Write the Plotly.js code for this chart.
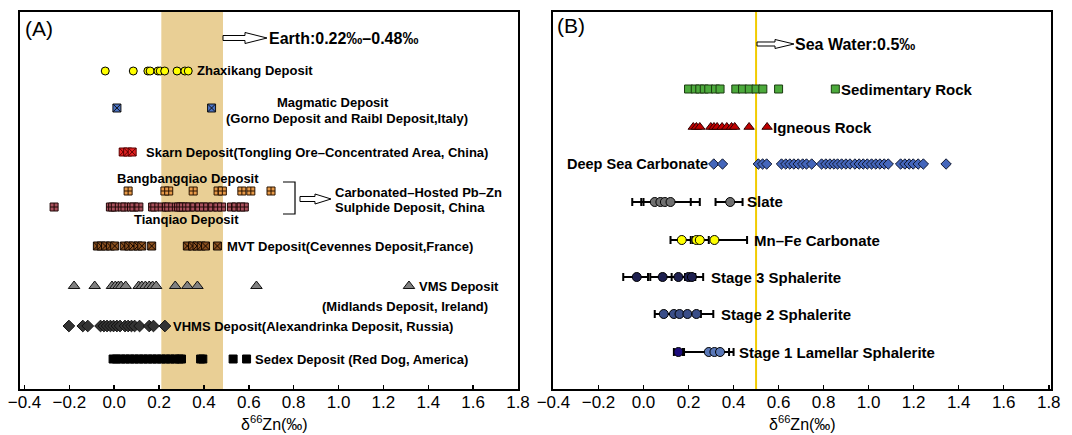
<!DOCTYPE html>
<html><head><meta charset="utf-8">
<script src="https://cdn.plot.ly/plotly-3.0.1.min.js"></script>
<style>html,body{margin:0;padding:0;background:#fff}</style>
</head><body><div id="chart" style="width:1072px;height:435px"></div>
<script>
// ---------- Panel A data (δ66Zn ‰) ----------
const zhaxikang = [-0.04, 0.085, 0.15, 0.16, 0.195, 0.205, 0.225, 0.28, 0.315, 0.33];
const magmatic = [0.012, 0.434];
const skarn = [0.04, 0.06, 0.08];
const bangbangqiao = [0.062, 0.226, 0.243, 0.352, 0.463, 0.482, 0.569, 0.609, 0.699];
const tianqiao = [-0.268, -0.017, -0.007, 0.005, 0.036, 0.048, 0.077, 0.088, 0.11, 0.171, 0.181, 0.214, 0.233, 0.243, 0.277, 0.287, 0.297, 0.308, 0.323, 0.337, 0.359, 0.381, 0.398, 0.417, 0.439, 0.462, 0.479, 0.523, 0.543, 0.566, 0.58];
const mvt = [-0.075, -0.058, -0.039, -0.017, 0.002, 0.045, 0.065, 0.084, 0.106, 0.123, 0.167, 0.326, 0.349, 0.369, 0.388, 0.407, 0.46];
const vms = [-0.179, -0.087, -0.01, 0.005, 0.019, 0.031, 0.051, 0.109, 0.123, 0.139, 0.156, 0.171, 0.187, 0.272, 0.326, 0.371, 0.634];
const vhms = [-0.202, -0.14, -0.118, -0.061, -0.046, -0.032, -0.017, -0.003, 0.012, 0.026, 0.048, 0.062, 0.077, 0.091, 0.113, 0.156, 0.175, 0.226];
const sedex = [-0.005, 0.01, 0.03, 0.05, 0.07, 0.09, 0.11, 0.13, 0.15, 0.17, 0.19, 0.21, 0.23, 0.25, 0.27, 0.29, 0.3, 0.385, 0.395, 0.53, 0.59];
const earthRange = [0.21, 0.485];

// ---------- Panel B data ----------
const sedimentary = [0.2, 0.23, 0.25, 0.27, 0.29, 0.32, 0.34, 0.41, 0.44, 0.47, 0.5, 0.53, 0.6];
const igneous = [0.221, 0.235, 0.25, 0.299, 0.313, 0.327, 0.349, 0.37, 0.391, 0.405, 0.469];
const deepSea = [0.312, 0.351, 0.51, 0.529, 0.547, 0.613, 0.632, 0.65, 0.668, 0.687, 0.707, 0.724, 0.747, 0.791, 0.81, 0.828, 0.846, 0.862, 0.88, 0.899, 0.917, 0.939, 0.958, 0.976, 0.994, 1.013, 1.032, 1.05, 1.069, 1.087, 1.142, 1.161, 1.18, 1.198, 1.22, 1.243, 1.344];
const slate = [0.05, 0.075, 0.095, 0.12, 0.385];
const slatePlus = [0.05, 0.03, 0.115, 0.13, 0.055];
const slateMinus = [0.10, 0.085, 0.095, 0.04, 0.065];
const mnfe = [0.17, 0.235, 0.25, 0.315];
const mnfePlus = [0.04, 0.01, 0.04, 0.145];
const mnfeMinus = [0.05, 0.01, 0.03, 0.01];
const stage3 = [-0.03, 0.085, 0.155, 0.2, 0.215];
const stage3Plus = [0.05, 0.04, 0.03, 0.03, 0.05];
const stage3Minus = [0.06, 0.055, 0.08, 0.04, 0.03];
const stage2 = [0.09, 0.135, 0.16, 0.195, 0.235];
const stage2Plus = [0.04, 0.005, 0.03, 0.06, 0.075];
const stage2Minus = [0.04, 0.005, 0.02, 0.05, 0.04];
const stage1 = [0.155, 0.29, 0.315, 0.34];
const stage1Plus = [0.02, 0.09, 0.02, 0.06];
const stage1Minus = [0.02, 0.11, 0.02, 0.02];
const seaWater = 0.5;
const tickVals = [-0.4, -0.2, 0.0, 0.2, 0.4, 0.6, 0.8, 1.0, 1.2, 1.4, 1.6, 1.8];

// ---------- layout helpers (pixel positions) ----------
const W = 1072, H = 435;
const px = x => x / W, py = y => 1 - y / H;
const rowA = {zhx: 71, mag: 108, skarn: 152, bbq: 191, tq: 207, mvt: 246, vms: 286, vhms: 326, sedex: 359};
const rowB = {sed: 89, ign: 127, deep: 164, slate: 202, mnfe: 240, s3: 277, s2: 314, s1: 352};
const keyX = {vms: 1.314, sed: 0.852, ign: 0.549};

function pts(xs, row, sym, fill, line, size, ax) {
  return {type: 'scatter', mode: 'markers', x: xs, y: xs.map(() => row),
    xaxis: ax === 2 ? 'x2' : 'x', yaxis: ax === 2 ? 'y2' : 'y', hoverinfo: 'x',
    marker: {symbol: sym, color: fill, size: size || 8, line: {color: line, width: 1}}};
}
function errPts(xs, plus, minus, row, fills) {
  return {type: 'scatter', mode: 'markers', x: xs, y: xs.map(() => row), xaxis: 'x2', yaxis: 'y2',
    error_x: {type: 'data', symmetric: false, array: plus, arrayminus: minus, color: '#000', thickness: 2, width: 4},
    marker: {symbol: 'circle', color: fills, size: 9, line: {color: '#000', width: 1}}};
}

const data = [
  pts(zhaxikang, rowA.zhx, 'circle', '#ffff00', '#000', 8),
  pts(magmatic, rowA.mag, 'square-x', '#4a72c4', '#111', 8),
  pts(skarn, rowA.skarn, 'square-x', '#e52222', '#5a0000', 8),
  pts(bangbangqiao, rowA.bbq, 'square-cross', '#e89a48', '#2a1400', 8),
  pts(tianqiao, rowA.tq, 'square-cross', '#a8505c', '#200808', 8),
  pts(mvt, rowA.mvt, 'square-x', '#8a5020', '#140800', 8),
  pts(vms, rowA.vms, 'triangle-up', '#808080', '#111', 10),
  pts([keyX.vms], rowA.vms, 'triangle-up', '#808080', '#111', 10),
  pts(vhms, rowA.vhms, 'diamond', '#333333', '#111', 9),
  pts(sedex, rowA.sedex, 'square', '#000', '#000', 8),

  pts(sedimentary, rowB.sed, 'square', '#4caa3c', '#1a3a10', 8, 2),
  pts([keyX.sed], rowB.sed, 'square', '#4caa3c', '#1a3a10', 8, 2),
  pts(igneous, rowB.ign, 'triangle-up', '#c00000', '#300000', 9, 2),
  pts([keyX.ign], rowB.ign, 'triangle-up', '#c00000', '#300000', 9, 2),
  pts(deepSea, rowB.deep, 'diamond', '#4466bb', '#101830', 8, 2),
  errPts(slate, slatePlus, slateMinus, rowB.slate, '#707070'),
  errPts(mnfe, mnfePlus, mnfeMinus, rowB.mnfe, '#ffff00'),
  errPts(stage3, stage3Plus, stage3Minus, rowB.s3, '#1e2050'),
  errPts(stage2, stage2Plus, stage2Minus, rowB.s2, '#3a4e88'),
  errPts(stage1, stage1Plus, stage1Minus, rowB.s1, ['#1c0c7c', '#5a78b8', '#5a78b8', '#5a78b8'])
];

const tickFont = {family: 'Liberation Sans Narrow, Arial Narrow, Liberation Sans, Arial', size: 17, color: '#000'};
function xax(dom, range, anchor) {
  return {domain: dom, range: range, tickvals: tickVals, tickformat: '.1f', ticks: 'inside', ticklen: 4,
    tickwidth: 1.5, tickcolor: '#000', showline: true, linewidth: 2, linecolor: '#000', mirror: true,
    showgrid: false, zeroline: false, tickfont: tickFont, ticklabelstandoff: -3, anchor: anchor, fixedrange: true};
}
function yax(anchor) {
  return {domain: [py(389), py(12)], range: [389, 12], showline: true, linewidth: 2, linecolor: '#000',
    mirror: true, showgrid: false, zeroline: false, showticklabels: false, ticks: '', anchor: anchor, fixedrange: true};
}

const F = 'Liberation Sans, Arial, sans-serif';
function lab(text, x, y, size, anchor, bold) {
  return {xref: 'paper', yref: 'paper', x: px(x), y: py(y), text: bold === false ? text : '<b>' + text + '</b>',
    showarrow: false, xanchor: anchor || 'left', yanchor: 'middle', borderpad: 0,
    font: {family: F, size: size, color: '#000'}};
}
function hollowArrow(x0, x1, xh, y, sh, hh) {
  const P = (a, b) => px(a).toFixed(5) + ',' + py(b).toFixed(5);
  return {type: 'path', xref: 'paper', yref: 'paper', layer: 'above',
    path: `M${P(x0, y - sh)} L${P(xh, y - sh)} L${P(xh, y - hh)} L${P(x1, y)} L${P(xh, y + hh)} L${P(xh, y + sh)} L${P(x0, y + sh)} Z`,
    line: {color: '#000', width: 1}, fillcolor: '#fff'};
}
function bracket(x0, x1, y0, y1) {
  const P = (a, b) => px(a).toFixed(5) + ',' + py(b).toFixed(5);
  return {type: 'path', xref: 'paper', yref: 'paper', path: `M${P(x0, y0)} L${P(x1, y0)} L${P(x1, y1)} L${P(x0, y1)}`,
    line: {color: '#000', width: 1.2}};
}

const annotations = [
  lab('(A)', 24, 29, 21, 'left', false),
  lab('Earth:0.22‰–0.48‰', 268, 38, 16),
  lab('Zhaxikang Deposit', 196, 71, 13),
  lab('Magmatic Deposit', 276, 103, 13),
  lab('(Gorno Deposit and Raibl Deposit,Italy)', 225, 118, 13),
  lab('Skarn Deposit(Tongling Ore–Concentrated Area, China)', 145, 152, 13),
  lab('Bangbangqiao Deposit', 116, 178, 13),
  lab('Tianqiao Deposit', 133, 219, 13),
  lab('Carbonated–Hosted Pb–Zn', 334, 192, 13),
  lab('Sulphide Deposit, China', 334, 207, 13),
  lab('MVT Deposit(Cevennes Deposit,France)', 226, 246, 13),
  lab('VMS Deposit', 418, 286, 13),
  lab('(Midlands Deposit, Ireland)', 321, 306, 13),
  lab('VHMS Deposit(Alexandrinka Deposit, Russia)', 172, 326, 13),
  lab('Sedex Deposit (Red Dog, America)', 254, 359, 13),
  lab('δ<sup>66</sup>Zn(‰)', 274, 423, 16, 'center', false),

  lab('(B)', 556, 25, 21, 'left', false),
  lab('Sea Water:0.5‰', 794, 45, 16),
  lab('Sedimentary Rock', 840, 89, 15),
  lab('Igneous Rock', 772, 127, 15),
  lab('Deep Sea Carbonate', 709, 164, 14.5, 'right'),
  lab('Slate', 746, 202, 15),
  lab('Mn–Fe Carbonate', 753, 240, 15),
  lab('Stage 3 Sphalerite', 710, 277, 15),
  lab('Stage 2 Sphalerite', 720, 314, 15),
  lab('Stage 1 Lamellar Sphalerite', 738, 352, 15),
  lab('δ<sup>66</sup>Zn(‰)', 802, 423, 16, 'center', false)
];

const shapes = [
  {type: 'rect', xref: 'x', yref: 'paper', x0: earthRange[0], x1: earthRange[1], y0: py(389), y1: py(12),
    fillcolor: '#e9cf95', line: {width: 0}, layer: 'below'},
  {type: 'line', xref: 'x2', yref: 'paper', x0: seaWater, x1: seaWater, y0: py(389), y1: py(12),
    line: {color: '#f2cc00', width: 2}, layer: 'below'},
  hollowArrow(223, 267, 245, 38, 2.5, 5.5),
  hollowArrow(757, 794, 775, 44, 2, 4.5),
  hollowArrow(300, 331, 315, 199, 2.5, 5),
  bracket(283, 295, 182, 214)
];

const layout = {
  width: W, height: H, margin: {l: 0, r: 0, t: 0, b: 0}, paper_bgcolor: '#fff', plot_bgcolor: 'rgba(0,0,0,0)',
  showlegend: false, font: {family: F, color: '#000'},
  xaxis: xax([px(20), px(518)], [-0.42, 1.8], 'y'),
  yaxis: yax('x'),
  xaxis2: xax([px(553), px(1051)], [-0.402, 1.81], 'y2'),
  yaxis2: yax('x2'),
  annotations: annotations, shapes: shapes
};

Plotly.newPlot('chart', data, layout, {displayModeBar: false, staticPlot: true});
</script></body></html>
